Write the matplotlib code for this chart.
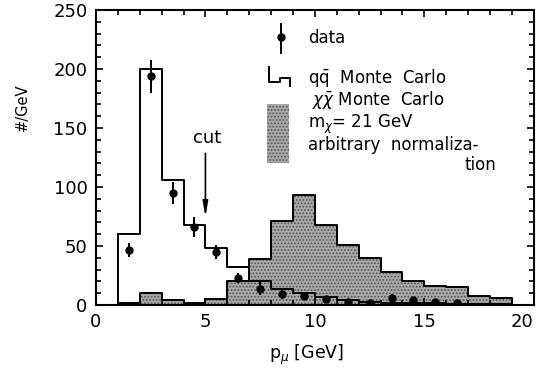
import numpy as np
import matplotlib
matplotlib.use("Agg")
import matplotlib.pyplot as plt

# bin edges (1 GeV bins, 1..20 GeV)
edges = np.arange(1, 21)
# q qbar Monte Carlo (#/GeV)
qq_mc = [60, 200, 106, 68, 48, 32, 20, 14, 10, 7, 4, 3, 2, 2, 2, 1, 1, 1, 0]
# chi chibar Monte Carlo, arbitrary normalization
chi_mc = [2, 10, 4, 2, 5, 20, 39, 71, 93, 68, 51, 40, 28, 20, 16, 15, 8, 6, 0]

# data points
data_x = [1.5, 2.5, 3.5, 4.5, 5.5, 6.5, 7.5, 8.5, 9.5, 10.5, 11.5, 12.5, 13.5, 14.5, 15.5, 16.5]
data_y = [47, 194, 95, 66, 45, 23, 14, 9, 8, 5, 3, 2, 6, 4, 3, 1.5]
data_err = [6, 14, 9.5, 8.5, 6, 4, 5.5, 4, 3, 3, 2, 2, 3, 2, 2, 1.5]

plt.rcParams['font.family'] = ['DejaVu Sans']
plt.rcParams['mathtext.fontset'] = 'dejavusans'
plt.rcParams['hatch.color'] = '#505050'
plt.rcParams['hatch.linewidth'] = 0.8

fig = plt.figure(figsize=(5.42, 3.72), dpi=100)
ax = fig.add_axes([0.177, 0.180, 0.808, 0.793])

# histograms as steps
qq_y = list(qq_mc) + [qq_mc[-1]]
chi_y = list(chi_mc) + [chi_mc[-1]]
ax.fill_between(edges, chi_y, step='post', facecolor='#a8a8a8',
                hatch='.....', linewidth=0, zorder=1)
ax.step(edges, qq_y, where='post', color='black', lw=1.4, zorder=2)
ax.plot([edges[0], edges[0]], [0, qq_mc[0]], color='black', lw=1.4, zorder=2)
ax.step(edges, chi_y, where='post', color='black', lw=1.4, zorder=2)
ax.plot([edges[0], edges[0]], [0, chi_mc[0]], color='black', lw=1.4, zorder=2)

ax.errorbar(data_x, data_y, yerr=data_err, fmt='o', color='black',
            ms=5, elinewidth=1.4, capsize=0, zorder=3)

# cut arrow
ax.annotate('', xy=(5.0, 72), xytext=(5.0, 131),
            arrowprops=dict(arrowstyle='-|>,head_length=0.9,head_width=0.15',
                            color='black', lw=1.2))
ax.text(5.1, 137, 'cut', fontsize=13, ha='center', va='baseline')

# legend, drawn by hand
fs = 12
ax.errorbar([8.45], [227], yerr=[[14], [12]], fmt='o', color='black',
            ms=5, elinewidth=1.4, capsize=0, zorder=3)
ax.text(9.7, 222, 'data', fontsize=fs, va='baseline')
ax.plot([7.9, 7.9, 8.4, 8.4, 8.85, 8.85], [202, 189, 189, 192, 192, 186],
        color='black', lw=1.4)
ax.text(9.7, 188, r'q$\bar{\mathrm{q}}$  Monte  Carlo', fontsize=fs, va='baseline')
ax.fill_between([7.8, 8.83], [120, 120], [170, 170], facecolor='#a8a8a8',
                hatch='.....', linewidth=0)
ax.text(9.85, 169.5, r'$\chi\bar{\chi}$ Monte  Carlo', fontsize=fs, va='baseline')
ax.text(9.7, 150.0, r'm$_\chi$= 21 GeV', fontsize=fs, va='baseline')
ax.text(9.7, 131.8, 'arbitrary  normaliza-', fontsize=fs, va='baseline')
ax.text(18.3, 114.8, 'tion', fontsize=fs, va='baseline', ha='right')

ax.set_xlim(0, 20)
ax.set_ylim(0, 250)
ax.set_xticks([0, 5, 10, 15, 20])
ax.set_xticks(np.arange(0, 21, 1), minor=True)
ax.set_yticks([0, 50, 100, 150, 200, 250])
ax.set_yticks(np.arange(0, 251, 10), minor=True)
ax.tick_params(which='both', direction='in', top=True, right=True,
               labelsize=13, width=1.2)
ax.tick_params(which='major', length=5, pad=6)
ax.tick_params(which='minor', length=3.5)
ax.get_xticklabels()[-1].set_ha('right')
for s in ax.spines.values():
    s.set_linewidth(1.5)

fig.text(0.565, 0.045, r'p$_\mu$ [GeV]', fontsize=12.5, ha='center', va='center')
fig.text(0.042, 0.712, '#/GeV', fontsize=10.5, rotation=90, ha='center', va='center')

fig.savefig('out.png', dpi=100)
